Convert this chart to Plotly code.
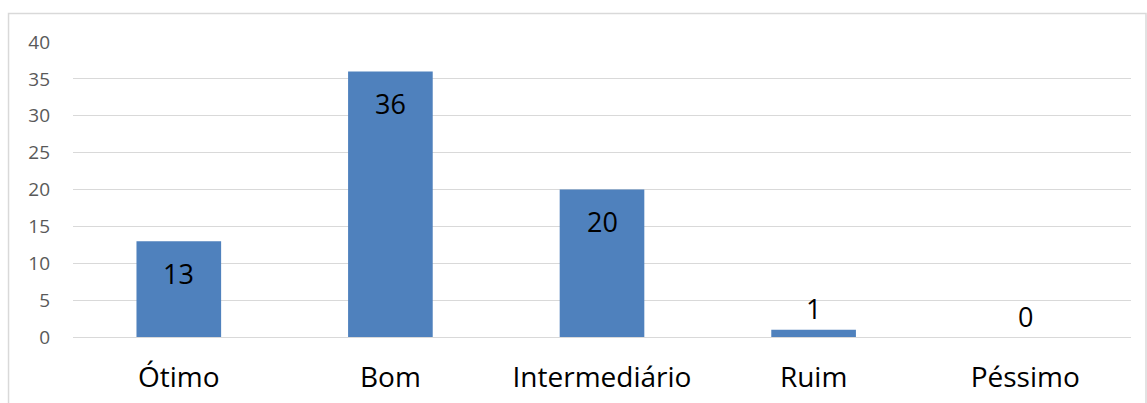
import plotly.graph_objects as go

categories = ["Ótimo", "Bom", "Intermediário", "Ruim", "Péssimo"]
values = [13, 36, 20, 1, 0]
y_ticks = [0, 5, 10, 15, 20, 25, 30, 35, 40]

BAR_COLOR = "#4f81bd"
GRID_COLOR = "#d9d9d9"
FONT = "Open Sans, Liberation Sans, sans-serif"

fig = go.Figure()
fig.add_trace(go.Bar(
    x=categories,
    y=values,
    marker=dict(color=BAR_COLOR, line=dict(width=0)),
    hoverinfo="x+y",
))

# value labels: inside the top of tall bars, just above short ones
for cat, val in zip(categories, values):
    inside = val >= 5
    fig.add_annotation(
        x=cat, y=val, text=str(val), showarrow=False,
        yanchor="middle", yshift=-32 if inside else 21,
        font=dict(family=FONT, size=27, color="#000000"),
    )

W, H = 1147, 403
L, R, T, B = 73, 15.5, 42, 66
pw, ph = W - L - R, H - T - B

# outer chart frame
fig.add_shape(
    type="rect", xref="paper", yref="paper",
    x0=(8.5 - L) / pw, x1=(1146.5 - L) / pw,
    y0=-(H + 10 - (H - B)) / ph, y1=((H - B) - 13.5) / ph,
    line=dict(color="#d9d9d9", width=1.5), fillcolor="rgba(0,0,0,0)",
    layer="below",
)

fig.update_layout(
    width=W, height=H,
    margin=dict(l=L, r=R, t=T, b=B),
    paper_bgcolor="white", plot_bgcolor="white",
    bargap=0.6,
    showlegend=False,
    xaxis=dict(
        showgrid=False, showline=False, zeroline=False,
        tickfont=dict(family=FONT, size=28, color="#000000"),
        ticks="", ticklabelstandoff=21, automargin=False,
    ),
    yaxis=dict(
        range=[0, 40], tickvals=y_ticks,
        showgrid=True, gridcolor=GRID_COLOR, gridwidth=1.3,
        zeroline=True, zerolinecolor=GRID_COLOR, zerolinewidth=1.3,
        showline=False, ticks="",
        tickfont=dict(family=FONT, size=19, color="#595959"),
        ticklabelstandoff=22, automargin=False,
    ),
)

fig.write_html("out.html")
